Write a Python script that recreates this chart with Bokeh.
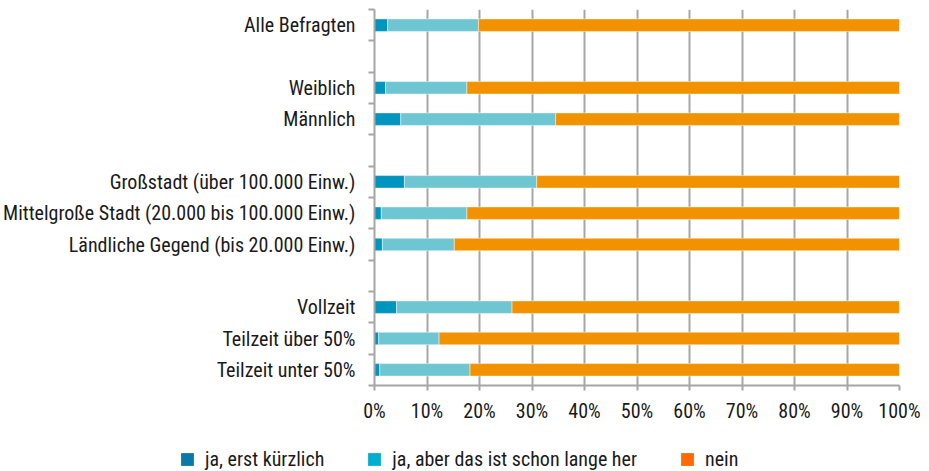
from bokeh.plotting import figure
from bokeh.layouts import column
from bokeh.models import (Range1d, FixedTicker, Legend, LegendItem,
                          ColumnDataSource, PrintfTickFormatter)
from bokeh.embed import file_html
from bokeh.resources import INLINE

# ---- data -------------------------------------------------------------
categories = [
    "Alle Befragten", "",
    "Weiblich", "Männlich", "",
    "Großstadt (über 100.000 Einw.)",
    "Mittelgroße Stadt (20.000 bis 100.000 Einw.)",
    "Ländliche Gegend (bis 20.000 Einw.)", "",
    "Vollzeit", "Teilzeit über 50%", "Teilzeit unter 50%",
]
ja_kuerzlich = [2.5, None, 2.1, 5.0, None, 5.7, 1.3, 1.5, None, 4.2, 0.8, 1.0]
ja_lange_her = [17.3, None, 15.5, 29.5, None, 25.2, 16.3, 13.7, None, 22.0, 11.5, 17.2]
nein = [80.2, None, 82.4, 65.5, None, 69.1, 82.4, 84.8, None, 73.8, 87.7, 81.8]
series_names = ["ja, erst kürzlich", "ja, aber das ist schon lange her", "nein"]
x_ticks = [0, 10, 20, 30, 40, 50, 60, 70, 80, 90, 100]

# ---- styles -----------------------------------------------------------
bar_colors = ["#0095BE", "#6FC6D3", "#F39200"]
legend_colors = ["#0A78A8", "#00AECF", "#FF6A00"]
FONT = "Roboto Condensed"
TEXT_COLOR = "#1a1a1a"
GRID = "#A6A6A6"

rows = [i for i, c in enumerate(categories) if c]
src = ColumnDataSource(dict(
    y=rows,
    a=[ja_kuerzlich[i] for i in rows],
    b=[ja_lange_her[i] for i in rows],
    c=[nein[i] for i in rows],
))

n = len(categories)
p = figure(width=929, height=431, output_backend="svg", toolbar_location=None,
           x_range=Range1d(0, 100), y_range=Range1d(n - 0.5, -0.5),
           min_border_left=374, min_border_right=30, min_border_top=9,
           min_border_bottom=46)
p.outline_line_color = None
p.frame_align = False

p.hbar_stack(["a", "b", "c"], y="y", height=0.4, source=src,
             fill_color=bar_colors, line_color="white", line_alpha=0.45,
             line_width=1)

# grid
p.xgrid.ticker = FixedTicker(ticks=x_ticks)
p.xgrid.grid_line_color = GRID
p.xgrid.grid_line_width = 2
p.ygrid.grid_line_color = None

# x axis
xa = p.xaxis[0]
xa.ticker = FixedTicker(ticks=x_ticks)
xa.formatter = PrintfTickFormatter(format="%d%%")
xa.axis_line_color = GRID
xa.axis_line_width = 2
xa.major_tick_line_color = GRID
xa.major_tick_line_width = 2
xa.major_tick_out = 5
xa.major_tick_in = 0
xa.minor_tick_line_color = None
xa.major_label_text_font = FONT
xa.major_label_text_font_size = "20px"
xa.major_label_text_color = TEXT_COLOR
xa.major_label_standoff = 8

# y axis
ya = p.yaxis[0]
ya.ticker = FixedTicker(ticks=rows, minor_ticks=[i - 0.5 for i in range(n + 1)])
ya.major_label_overrides = {i: categories[i] for i in rows}
ya.axis_line_color = GRID
ya.axis_line_width = 2
ya.major_tick_out = 0
ya.major_tick_in = 0
ya.major_tick_line_color = None
ya.minor_tick_out = 6
ya.minor_tick_in = 0
ya.minor_tick_line_color = GRID
ya.minor_tick_line_width = 2
ya.major_label_text_font = FONT
ya.major_label_text_font_size = "20px"
ya.major_label_text_color = TEXT_COLOR
ya.major_label_standoff = 13

# ---- legend strip (own small figure below) ----------------------------
lg = figure(width=929, height=40, output_backend="svg", toolbar_location=None,
            x_range=Range1d(0, 1), y_range=Range1d(0, 1),
            min_border_left=0, min_border_right=0, min_border_top=0,
            min_border_bottom=0)
lg.axis.visible = False
lg.grid.visible = False
lg.outline_line_color = None
lg.frame_align = False

nan = float("nan")
items = []
for name, col in zip(series_names, legend_colors):
    r = lg.quad(left=[nan], right=[nan], top=[nan], bottom=[nan],
                fill_color=col, line_color=None)
    items.append(LegendItem(label=name, renderers=[r]))

legend = Legend(items=items, orientation="horizontal", location=(179, 0),
                glyph_width=16, glyph_height=16, label_standoff=10, spacing=42,
                padding=0, margin=0, border_line_color=None,
                background_fill_alpha=0,
                label_text_font=FONT, label_text_font_size="20px",
                label_text_color=TEXT_COLOR)
lg.add_layout(legend, "center")

layout = column(p, lg, spacing=0)
open("out.html", "w").write(file_html(layout, INLINE))
